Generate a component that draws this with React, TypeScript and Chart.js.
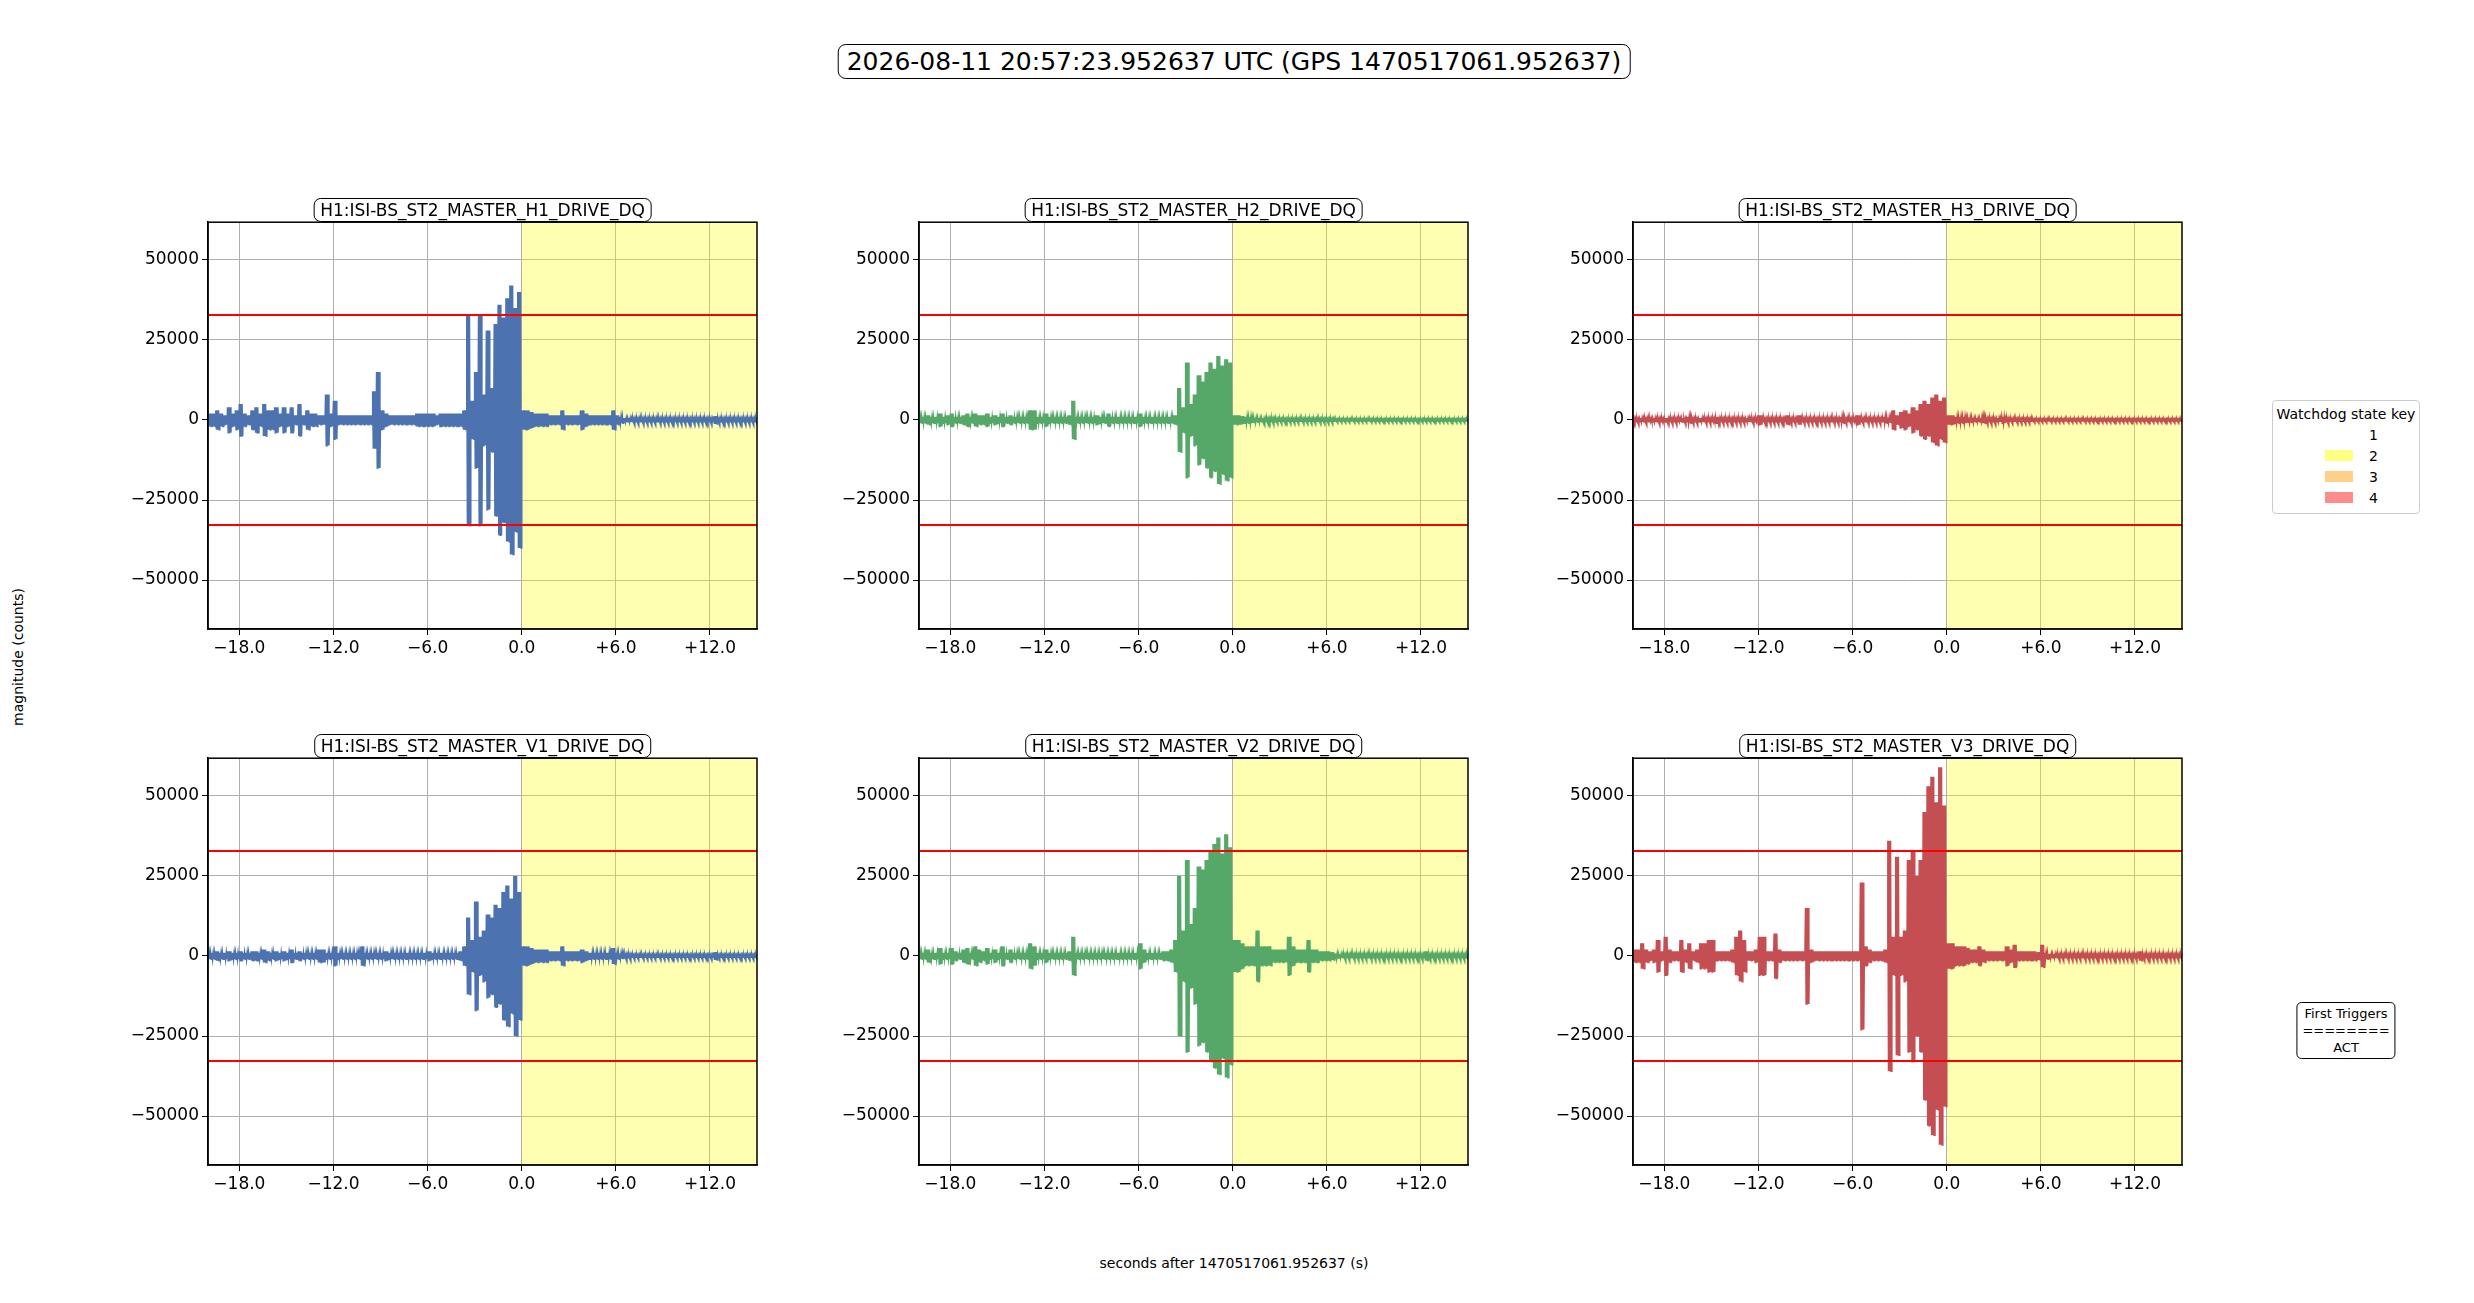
import { useEffect, useRef } from 'react';
import { Chart, registerables } from 'chart.js';

Chart.register(...registerables);

// amplitude envelopes in thousands of counts, 4 samples per second from -20 s to +15 s
const ampH1 = [
  2, 2, 3, 2, 1.5, 4, 2, 3, 5, 2, 1.5, 3, 4, 2, 5, 3, 3, 4, 2, 4,
  2, 4, 1.5, 5, 1.5, 3, 2, 2, 1.5, 1.5, 8, 2, 6, 1.5, 1.5, 1.5, 1.5, 1.5, 1.5, 1.5,
  1.5, 1.5, 9, 15, 3, 2, 1.5, 1.5, 1.5, 1.5, 1.5, 1.5, 1.5, 2, 2, 2, 2, 2, 1.5, 2,
  2, 2, 2, 2, 2, 3, 33, 6, 15, 33, 8, 28, 10, 30, 36, 32, 38, 42, 35, 40,
  3, 3, 2.5, 2, 2, 2, 2, 1.5, 1.5, 1.5, 3, 1.5, 1.5, 1.5, 1.5, 3, 2, 1.5, 1.5, 1.5,
  1.5, 1.5, 1.5, 3, 1.5, 1, 0.6, 0.6, 0.5, 0.5, 0.5, 0.5, 0.5, 0.5, 0.5, 0.5, 0.5, 0.5, 0.5, 0.5,
  0.5, 0.5, 0.5, 0.5, 0.5, 0.5, 0.5, 0.5, 0.5, 1.2, 0.5, 0.5, 0.5, 0.5, 0.5, 0.5, 0.5, 0.5, 0.5, 0.5, 0.5,
];
const ampH2 = [
  1, 1, 1.5, 1, 1, 2, 1, 1.5, 2, 1, 1, 1.5, 2, 1, 2, 1.5, 1.5, 2, 1, 1.5,
  1, 2, 1, 1.5, 1, 1, 1, 1, 3, 3, 1, 1, 2, 1, 1, 1, 1, 1, 1.5, 6,
  1, 1, 1, 1, 1, 1.5, 1, 1, 2, 1, 1, 1, 1, 1, 1, 1, 2, 1, 1, 1,
  1, 1, 1, 1, 1, 1.5, 10, 4, 18, 5, 8, 14, 12, 15, 18, 16, 20, 17, 19, 18,
  1.5, 1.5, 1.2, 1, 1, 0.8, 0.7, 0.6, 0.5, 0.5, 0.5, 0.4, 0.4, 0.4, 0.4, 0.4, 0.4, 0.4, 0.4, 0.4,
  0.4, 0.4, 0.4, 0.4, 0.4, 0.4, 0.3, 0.3, 0.3, 0.3, 0.3, 0.3, 0.3, 0.3, 0.3, 0.3, 0.3, 0.3, 0.3, 0.3,
  0.3, 0.3, 0.3, 0.3, 0.3, 0.3, 0.3, 0.3, 0.3, 0.3, 0.3, 0.3, 0.3, 0.3, 0.3, 0.3, 0.3, 0.3, 0.3, 0.3, 0.3,
];
const ampH3 = [
  0.5, 0.5, 0.6, 0.5, 0.5, 0.6, 0.5, 0.5, 0.6, 0.5, 0.5, 0.5, 0.6, 0.5, 1, 0.5, 0.5, 0.6, 0.5, 0.5,
  0.5, 1, 0.5, 0.5, 0.5, 0.5, 0.5, 0.5, 0.5, 0.6, 0.5, 0.5, 1.5, 0.5, 0.5, 0.5, 0.5, 0.5, 0.5, 1.5,
  0.5, 0.5, 1.5, 0.5, 0.5, 0.5, 0.5, 0.5, 0.5, 0.5, 0.5, 0.5, 0.5, 1, 0.5, 0.5, 0.5, 1.5, 0.5, 0.5,
  0.5, 0.5, 0.5, 0.5, 1, 0.8, 3, 1.5, 2.5, 3, 2, 4, 3, 5, 6, 5, 7, 8, 6, 7,
  1.5, 1.5, 1, 1, 1, 0.8, 0.8, 0.6, 0.6, 1, 0.5, 0.5, 0.5, 0.6, 1, 0.5, 0.4, 0.4, 0.4, 0.4,
  0.4, 0.4, 0.3, 0.3, 0.3, 0.3, 0.3, 0.3, 0.3, 0.3, 0.3, 0.3, 0.3, 0.3, 0.3, 0.3, 0.3, 0.3, 0.3, 0.3,
  0.3, 0.3, 0.3, 0.3, 0.3, 0.3, 0.3, 0.3, 0.3, 0.3, 0.3, 0.3, 0.3, 0.3, 0.3, 0.3, 0.3, 0.3, 0.3, 0.3, 0.3,
];
const ampV1 = [
  1, 1, 1.5, 1, 1, 1.5, 1, 1, 1.5, 1, 1, 1.5, 1.5, 1, 2, 1.5, 1, 1.5, 1, 1.5,
  1, 2, 1, 1.5, 1, 1, 1, 1, 2, 2, 1, 1, 3, 1, 1, 1, 1, 1, 1, 3,
  1, 1, 1, 1, 1, 1.5, 1, 1, 1, 1, 1, 1, 1, 1, 1, 1, 1.5, 1, 1, 1,
  1, 1, 1, 1, 1.5, 3, 12, 5, 17, 6, 8, 13, 12, 16, 15, 20, 22, 18, 25, 20,
  3, 3, 2.5, 2, 2, 2, 2, 1.5, 1.5, 1.5, 3, 1.5, 1.5, 1.5, 1.5, 2, 1.5, 1, 1, 1,
  1, 1, 1, 2.5, 1, 0.8, 0.5, 0.5, 0.4, 0.4, 0.4, 0.4, 0.4, 0.4, 0.4, 0.4, 0.4, 0.4, 0.4, 0.4,
  0.4, 0.4, 0.4, 0.4, 0.4, 0.4, 0.4, 0.4, 0.4, 1.2, 0.4, 0.4, 0.4, 0.4, 0.4, 0.4, 0.4, 0.4, 0.4, 0.4, 0.4,
];
const ampV2 = [
  1, 1, 2, 1, 1, 2.5, 1, 1, 2.5, 1.5, 1, 2, 2.5, 1, 3, 2, 1.5, 2.5, 1, 2,
  1, 3, 1, 2, 1, 1, 1, 1, 4, 3, 1, 1, 2, 1, 1, 1, 1, 1, 1.5, 6,
  1, 1, 1, 1, 1, 1, 1, 1, 1, 1, 1, 1, 1, 1, 1, 1, 4, 2, 1, 1,
  1, 1, 1.5, 1.5, 2, 5, 25, 8, 30, 10, 15, 28, 27, 30, 33, 35, 37, 32, 38, 34,
  5, 5, 4, 3, 3, 3, 8, 3, 3, 3, 2, 2, 2, 2, 6, 3, 2, 2, 2, 5,
  2, 2, 1.5, 1.5, 1.5, 1.2, 0.8, 0.6, 0.5, 0.5, 0.5, 0.5, 0.5, 0.5, 0.5, 0.5, 0.5, 0.5, 0.5, 0.5,
  0.5, 0.5, 0.5, 0.5, 0.5, 0.5, 0.5, 0.5, 0.5, 1.5, 0.5, 0.5, 0.5, 0.5, 0.5, 0.5, 0.5, 0.5, 0.5, 0.5, 0.5,
];
const ampV3 = [
  2, 2, 4, 2, 1.5, 2, 5, 1.5, 6, 2, 1.5, 1.5, 5, 2, 4, 1.5, 2, 4, 4, 5,
  5, 1.5, 1.5, 1.5, 1.5, 2, 6, 8, 5, 1.5, 1.5, 2, 6, 6, 1.5, 1.5, 7, 2, 1.5, 1.5,
  1.5, 1.5, 1.5, 1.5, 15, 2, 1.5, 1.5, 1.5, 1.5, 1.5, 1.5, 1.5, 1.5, 1.5, 1.5, 1.5, 1.5, 23, 3,
  2, 1.5, 1.5, 1.5, 2, 36, 6, 31, 6, 8, 30, 33, 25, 30, 45, 53, 56, 48, 59, 47,
  4, 4, 3, 3, 3, 2.5, 2, 2, 3, 2, 1.5, 1.5, 1.5, 1.5, 1.5, 3, 2, 3.5, 1.5, 1.5,
  1.5, 1.5, 1.5, 1.2, 3.5, 1, 0.7, 0.6, 0.5, 0.5, 0.5, 0.5, 0.5, 0.5, 0.5, 0.5, 0.5, 0.5, 0.5, 0.5,
  0.5, 0.5, 0.5, 0.5, 0.5, 0.5, 0.5, 0.5, 0.5, 1.5, 0.5, 0.5, 0.5, 0.5, 0.5, 0.5, 0.5, 0.5, 0.5, 0.5, 0.5,
];

const channels = [
  'H1:ISI-BS_ST2_MASTER_H1_DRIVE_DQ',
  'H1:ISI-BS_ST2_MASTER_H2_DRIVE_DQ',
  'H1:ISI-BS_ST2_MASTER_H3_DRIVE_DQ',
  'H1:ISI-BS_ST2_MASTER_V1_DRIVE_DQ',
  'H1:ISI-BS_ST2_MASTER_V2_DRIVE_DQ',
  'H1:ISI-BS_ST2_MASTER_V3_DRIVE_DQ',
];
const amplitudes = [ampH1, ampH2, ampH3, ampV1, ampV2, ampV3];
const colors = ['#4c72b0', '#55a868', '#c44e52', '#4c72b0', '#55a868', '#c44e52'];
const xTicks = [-18, -12, -6, 0, 6, 12];
const yTicks = [-50000, -25000, 0, 25000, 50000];
const tStart = -20;
const tEnd = 15;
const tStep = 0.25;
const threshold = 32768;
const yMin = -65300;
const yMax = 61800;
const stateRange = [0, 15]; // watchdog state 2

const font = 'DejaVu Sans, sans-serif';
const minus = (s: string) => s.replace('-', '\u2212');

const AXIS_W = 92;
const AXES_W = 549;
const AXES_H = 410;

const framePlugin = {
  id: 'frame',
  afterDraw(chart: Chart) {
    const { ctx, chartArea: a } = chart;
    ctx.save();
    ctx.strokeStyle = '#000';
    ctx.lineWidth = 1.5;
    ctx.strokeRect(a.left, a.top, a.right - a.left, a.bottom - a.top);
    ctx.restore();
  },
};

function Panel({ idx, left, top }: { idx: number; left: number; top: number }) {
  const ref = useRef<HTMLCanvasElement>(null);
  useEffect(() => {
    if (!ref.current) return;
    const amp = amplitudes[idx];
    // each envelope sample is drawn as a few swings between +a and -a
    const wave: { x: number; y: number }[] = [];
    const swings = 3;
    amp.forEach((a, i) => {
      const t = tStart + i * tStep;
      for (let k = 0; k < swings * 2; k++) {
        wave.push({ x: t + (k * tStep) / (swings * 2), y: (k % 2 === 0 ? 1 : -1) * a * 1000 });
      }
    });
    const chart = new Chart(ref.current, {
      type: 'line',
      data: {
        datasets: [
          {
            data: [{ x: stateRange[0], y: yMax }, { x: stateRange[1], y: yMax }],
            backgroundColor: 'rgba(255,255,0,0.3)',
            borderWidth: 0,
            pointRadius: 0,
            fill: { value: yMin },
            order: 10,
          },
          {
            data: wave,
            borderColor: colors[idx],
            borderWidth: 1.6,
            pointRadius: 0,
            tension: 0,
            order: 5,
          },
          {
            data: [{ x: tStart, y: threshold }, { x: tEnd, y: threshold }],
            borderColor: '#ff0000',
            borderWidth: 2,
            pointRadius: 0,
            order: 1,
          },
          {
            data: [{ x: tStart, y: -threshold }, { x: tEnd, y: -threshold }],
            borderColor: '#ff0000',
            borderWidth: 2,
            pointRadius: 0,
            order: 1,
          },
        ],
      },
      options: {
        animation: false,
        responsive: false,
        layout: { padding: { left: 0, top: 10, right: 10, bottom: 0 } },
        plugins: { legend: { display: false }, tooltip: { enabled: false } },
        scales: {
          x: {
            type: 'linear',
            min: tStart,
            max: tEnd,
            afterBuildTicks: (s: any) => { s.ticks = xTicks.map(v => ({ value: v })); },
            afterFit: (s: any) => { s.height = 40; },
            grid: { color: '#b0b0b0', tickLength: 6, tickColor: '#000' },
            border: { color: '#000', width: 1.5 },
            ticks: {
              color: '#000',
              font: { family: font, size: 17 },
              maxRotation: 0,
              callback: (v: any) => (v > 0 ? '+' : '') + minus(Number(v).toFixed(1)),
            },
          },
          y: {
            min: yMin,
            max: yMax,
            afterBuildTicks: (s: any) => { s.ticks = yTicks.map(v => ({ value: v })); },
            afterFit: (s: any) => { s.width = AXIS_W; },
            grid: { color: '#b0b0b0', tickLength: 6, tickColor: '#000' },
            border: { color: '#000', width: 1.5 },
            ticks: {
              color: '#000',
              font: { family: font, size: 17 },
              callback: (v: any) => minus(String(v)),
            },
          },
        },
      },
      plugins: [framePlugin],
    });
    return () => chart.destroy();
  }, [idx]);

  const w = AXIS_W + AXES_W + 10;
  const h = 10 + AXES_H + 40;
  return (
    <>
      <canvas
        ref={ref}
        width={w}
        height={h}
        style={{ position: 'absolute', left: left - AXIS_W, top: top - 10, width: w, height: h }}
      />
      <div
        style={{
          position: 'absolute', left: left + AXES_W / 2, top: top - 21, transform: 'translateX(-50%)',
          background: '#fff', border: '1.5px solid #000', borderRadius: 7, padding: '1px 6px',
          font: `17px ${font}`, whiteSpace: 'nowrap',
        }}
      >
        {channels[idx]}
      </div>
    </>
  );
}

const lefts = [208, 919, 1633];
const tops = [219, 755];

export default function App() {
  const swatch = (c: string) => ({ display: 'inline-block', width: 28, height: 11, background: c, marginRight: 16 });
  return (
    <div style={{ position: 'relative', width: 2474, height: 1303, margin: -8, background: '#fff', fontFamily: font }}>
      <div
        style={{
          position: 'absolute', left: 1234, top: 44, transform: 'translateX(-50%)', fontSize: 25,
          border: '1.5px solid #000', borderRadius: 8, padding: '2px 8px', whiteSpace: 'nowrap',
        }}
      >
        2026-08-11 20:57:23.952637 UTC (GPS 1470517061.952637)
      </div>
      {channels.map((_, i) => (
        <Panel key={i} idx={i} left={lefts[i % 3]} top={tops[Math.floor(i / 3)]} />
      ))}
      <div style={{ position: 'absolute', left: 1234, top: 1255, transform: 'translateX(-50%)', fontSize: 14, whiteSpace: 'nowrap' }}>
        seconds after 1470517061.952637 (s)
      </div>
      <div
        style={{
          position: 'absolute', left: 18, top: 657, transform: 'translate(-50%,-50%) rotate(-90deg)',
          fontSize: 14, whiteSpace: 'nowrap',
        }}
      >
        magnitude (counts)
      </div>
      <div
        style={{
          position: 'absolute', left: 2272, top: 400, width: 146, border: '1px solid #ccc', borderRadius: 4,
          fontSize: 14, padding: '5px 0', background: '#fff',
        }}
      >
        <div style={{ textAlign: 'center', marginBottom: 2 }}>Watchdog state key</div>
        {[['transparent', '1'], ['#ffff80', '2'], ['#ffd08a', '3'], ['#ff8c8c', '4']].map(([c, l]) => (
          <div key={l} style={{ paddingLeft: 52, height: 21, display: 'flex', alignItems: 'center' }}>
            <span style={swatch(c)} />
            {l}
          </div>
        ))}
      </div>
      <div
        style={{
          position: 'absolute', left: 2346, top: 1002, transform: 'translateX(-50%)', border: '1.5px solid #000',
          borderRadius: 5, fontSize: 13, padding: '2px 5px', textAlign: 'center', lineHeight: '17px', background: '#fff',
        }}
      >
        First Triggers<br />========<br />ACT
      </div>
    </div>
  );
}
